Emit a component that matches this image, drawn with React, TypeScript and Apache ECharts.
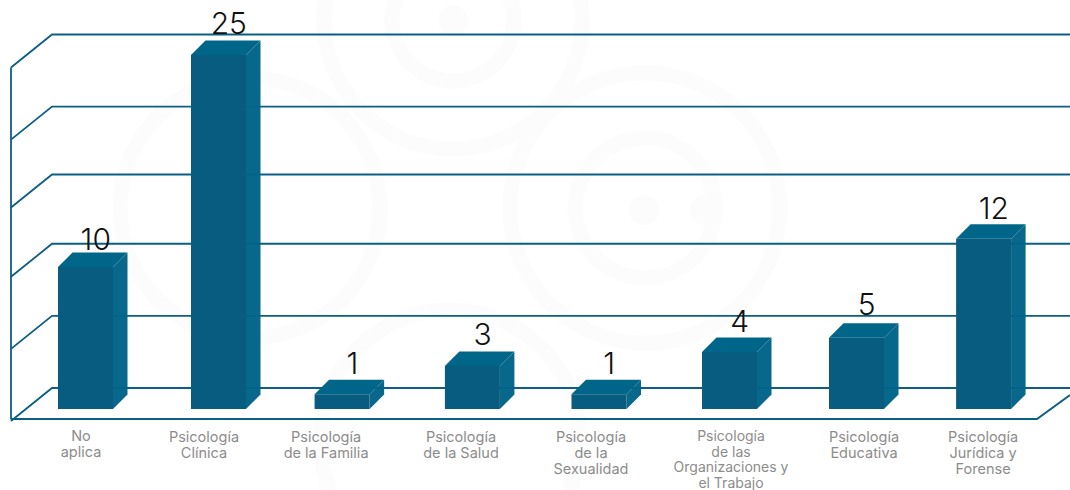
import React, { useEffect, useRef } from "react";
import * as echarts from "echarts";

const categories = [
  "No\naplica",
  "Psicología\nClínica",
  "Psicología\nde la Familia",
  "Psicología\nde la Salud",
  "Psicología\nde la\nSexualidad",
  "Psicología\nde las\nOrganizaciones y\nel Trabajo",
  "Psicología\nEducativa",
  "Psicología\nJurídica y\nForense",
];
const values = [10, 25, 1, 3, 1, 4, 5, 12];
const wallLevels = [0, 5.1, 10.2, 15.1, 19.9, 25];

const barNudge = [0, 4.7, 0, 2, 0.3, 2.5, 1.2, 0];
const labelNudge = [-4.5, -9.8, -16, -9.4, -7.7, 4, 8.7, -0.5];
const valueLabelDrop = [4, 0, 1, 0, 1, 1, -2, 1];

const FONT = "Inter, 'Open Sans', sans-serif";
const LINE = "#0b5f85";
const FRONT = "#075c80";
const SIDE = "#006387";
const TOP = "#006689";
const WATERMARK = "#fcfcfc";
const depth = 14.5;
const barW = 55;
const baseDrop = 21;

const ring = (cx: number, cy: number, r: number, w = 15) => ({
  type: "circle",
  silent: true,
  z: -10,
  shape: { cx, cy, r },
  style: { fill: "none", stroke: WATERMARK, lineWidth: w },
});

export default function App() {
  const ref = useRef<HTMLDivElement>(null);
  useEffect(() => {
    document.body.style.margin = "0";
    const chart = echarts.init(ref.current!, undefined, { renderer: "svg" });
    chart.setOption({
      animation: false,
      backgroundColor: "#ffffff",
      grid: { left: 21.35, top: 34.5, width: 1026.4, height: 353.5 },
      xAxis: {
        type: "category",
        data: categories,
        axisLine: { show: false },
        axisTick: { show: false },
        axisLabel: { show: false },
      },
      yAxis: {
        type: "value",
        min: 0,
        max: 25,
        interval: 5,
        axisLine: { show: false },
        axisTick: { show: false },
        axisLabel: { show: false },
        splitLine: { show: false },
      },
      graphic: [
        ring(453, 20, 61),
        ring(453, 20, 129),
        { type: "circle", silent: true, z: -10, shape: { cx: 453, cy: 20, r: 15 }, style: { fill: WATERMARK } },
        ring(645, 208, 70),
        ring(645, 208, 135),
        { type: "circle", silent: true, z: -10, shape: { cx: 644, cy: 210, r: 15 }, style: { fill: WATERMARK } },
        { type: "circle", silent: true, z: -10, shape: { cx: 705, cy: 210, r: 15 }, style: { fill: WATERMARK } },
        ring(250, 208, 130),
        ring(450, 440, 130),
      ],
      series: [
        {
          type: "custom",
          z: 1,
          silent: true,
          clip: false,
          data: wallLevels.map((v) => [0, v]),
          encode: { x: 0, y: 1 },
          renderItem: (_p: any, api: any) => {
            const y = api.coord([0, api.value(1)])[1];
            const isFloor = api.value(1) === 0;
            const isTop = api.value(1) === 25;
            const children: any[] = [
              { type: "polyline", shape: { points: [[11, y + 33], [52, y], [1070, y]] }, style: { fill: "none", stroke: LINE, lineWidth: 1.8 } },
            ];
            if (isFloor) {
              children.push({
                type: "polyline",
                shape: { points: [[11, y + 31], [1037, y + 31], [1070, y + 7]] },
                style: { fill: "none", stroke: LINE, lineWidth: 2 },
              });
            }
            if (isTop) {
              children.push({
                type: "line",
                shape: { x1: 11, y1: y + 33, x2: 11, y2: y + 385 },
                style: { stroke: LINE, lineWidth: 1.8 },
              });
            }
            return { type: "group", children };
          },
        },
        {
          type: "custom",
          z: 2,
          silent: true,
          clip: false,
          data: values.map((v, i) => [i, v]),
          encode: { x: 0, y: 1 },
          renderItem: (_p: any, api: any) => {
            const i = api.value(0);
            const [cx, ty] = api.coord([i, api.value(1)]);
            const by = api.coord([i, 0])[1] + baseDrop;
            const top = ty + baseDrop - 0.5;
            const xl = cx + barNudge[i] - barW / 2;
            const xr = xl + barW;
            return {
              type: "group",
              children: [
                { type: "polygon", shape: { points: [[xr, top], [xr + depth, top - depth], [xr + depth, by - depth], [xr, by]] }, style: { fill: SIDE, opacity: 0.97 } },
                { type: "polygon", shape: { points: [[xl, top], [xl + depth, top - depth], [xr + depth, top - depth], [xr, top]] }, style: { fill: TOP } },
                { type: "rect", shape: { x: xl, y: top, width: barW, height: by - top }, style: { fill: FRONT } },
                {
                  type: "text",
                  style: {
                    x: xl + (barW + depth) / 2 + 3,
                    y: top - depth - 2.5 + valueLabelDrop[i],
                    text: String(api.value(1)),
                    fill: "#111111",
                    font: `300 30px ${FONT}`,
                    align: "center",
                    verticalAlign: "bottom",
                  },
                },
              ],
            };
          },
        },
        {
          type: "custom",
          z: 3,
          silent: true,
          clip: false,
          data: categories.map((_c, i) => [i, 0]),
          encode: { x: 0, y: 1 },
          renderItem: (_p: any, api: any) => {
            const i = api.value(0);
            const [cx, y0] = api.coord([i, 0]);
            const lines = categories[i].split("\n").length;
            return {
              type: "text",
              style: {
                x: cx + labelNudge[i],
                y: y0 + (i === 0 ? 39 : 40),
                text: categories[i],
                fill: "#8c8c8c",
                font: `400 ${lines === 4 ? 14 : 14.5}px ${FONT}`,
                lineHeight: lines === 4 ? 15.5 : 16,
                align: "center",
                verticalAlign: "top",
              },
            };
          },
        },
      ],
    });
    return () => chart.dispose();
  }, []);
  return <div ref={ref} style={{ width: 1070, height: 490 }} />;
}
